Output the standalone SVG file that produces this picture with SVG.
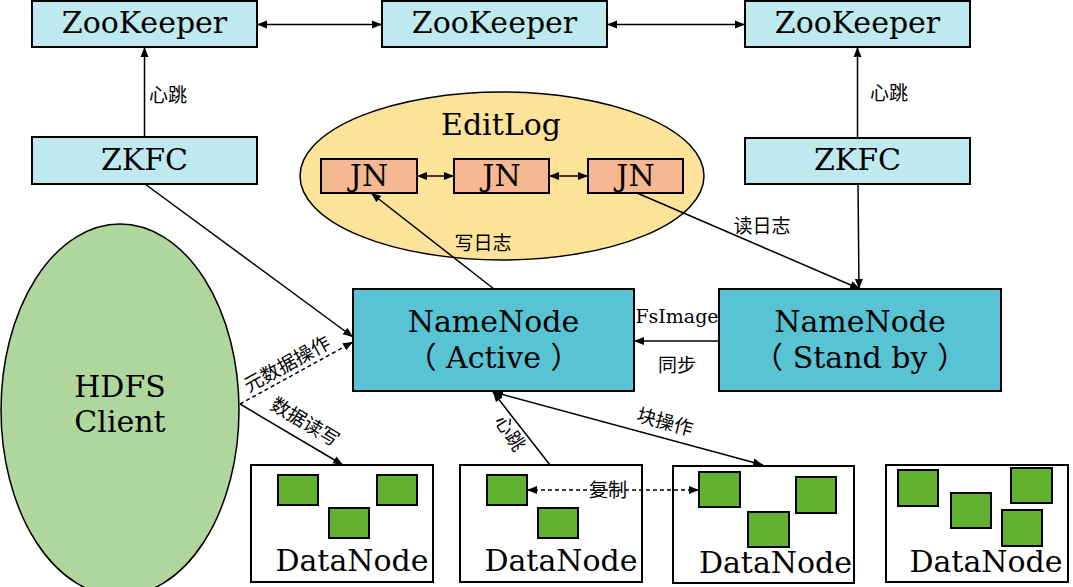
<svg xmlns="http://www.w3.org/2000/svg" width="1073" height="587" viewBox="0 0 1073 587">
<style>
.box{stroke:#000;stroke-width:2}
.zk{fill:#BEE9EE}
.nn{fill:#57C3D3}
.jn{fill:#F5B890}
.dn{fill:#fff}
.blk{fill:#62B22F;stroke:#000;stroke-width:2}
.t{font-family:"DejaVu Serif","Liberation Serif","Noto Sans CJK SC",serif;fill:#000;text-anchor:middle}
.big{font-size:30px}
.c{font-family:"Noto Sans CJK SC",sans-serif;font-size:19px;fill:#000;text-anchor:middle}
.ln{stroke:#000;stroke-width:1.5;fill:none}
.dash{stroke-dasharray:4 3}
</style>
<defs>
<marker id="ah" viewBox="0 0 10 10" refX="10" refY="5" markerWidth="10" markerHeight="10" markerUnits="userSpaceOnUse" orient="auto-start-reverse">
<path d="M0,1 L10,5 L0,9 z" fill="#000"/>
</marker>
</defs>

<g id="editlog">
<ellipse cx="502" cy="176" rx="202" ry="84" fill="#FCE399" stroke="#000" stroke-width="1.5"/>
<text class="t big" x="501" y="135">EditLog</text>
</g>
<g id="hdfs-client">
<ellipse cx="120" cy="410" rx="119" ry="186" fill="#AFD79D" stroke="#000" stroke-width="1.5"/>
<text class="t big" x="120" y="397">HDFS</text>
<text class="t big" x="120" y="432">Client</text>
</g>

<g id="zk1"><rect class="box zk" x="32" y="1" width="225" height="46"/><text class="t big" x="144.5" y="33">ZooKeeper</text></g>
<g id="zk2"><rect class="box zk" x="382" y="1" width="225" height="46"/><text class="t big" x="494.5" y="33">ZooKeeper</text></g>
<g id="zk3"><rect class="box zk" x="745" y="1" width="225" height="46"/><text class="t big" x="857.5" y="33">ZooKeeper</text></g>
<g id="zkfc1"><rect class="box zk" x="32" y="137" width="225" height="47"/><text class="t big" x="144.5" y="170">ZKFC</text></g>
<g id="zkfc2"><rect class="box zk" x="745" y="138" width="225" height="46"/><text class="t big" x="857.5" y="170">ZKFC</text></g>

<g id="jn1"><rect class="box jn" x="321" y="159" width="96" height="34"/><text class="t big" x="369" y="186">JN</text></g>
<g id="jn2"><rect class="box jn" x="454" y="159" width="95" height="34"/><text class="t big" x="501.5" y="186">JN</text></g>
<g id="jn3"><rect class="box jn" x="588" y="159" width="95" height="34"/><text class="t big" x="635.5" y="186">JN</text></g>

<g id="nn-active"><rect class="box nn" x="353" y="289" width="281" height="102"/><text class="t big" x="493.5" y="332">NameNode</text><text class="t big" x="493.5" y="368" xml:space="preserve">（ Active ）</text></g>
<g id="nn-standby"><rect class="box nn" x="719" y="289" width="282" height="102"/><text class="t big" x="860" y="332">NameNode</text><text class="t big" x="860" y="368" xml:space="preserve">（ Stand by ）</text></g>

<g id="dn1"><rect class="box dn" x="251" y="465" width="182" height="117"/>
<rect class="blk" x="278" y="475" width="40" height="30"/><rect class="blk" x="377" y="475" width="40" height="30"/><rect class="blk" x="329" y="508" width="40" height="30"/>
<text class="t big" x="352" y="571">DataNode</text></g>
<g id="dn2"><rect class="box dn" x="460" y="465" width="182" height="117"/>
<rect class="blk" x="487" y="475" width="40" height="30"/><rect class="blk" x="538" y="508" width="40" height="30"/>
<text class="t big" x="561" y="571">DataNode</text></g>
<g id="dn3"><rect class="box dn" x="673" y="466" width="181" height="117"/>
<rect class="blk" x="699" y="472" width="41" height="35"/><rect class="blk" x="796" y="477" width="40" height="36"/><rect class="blk" x="748" y="512" width="41" height="35"/>
<text class="t big" x="775.5" y="573">DataNode</text></g>
<g id="dn4"><rect class="box dn" x="886" y="465" width="182" height="117"/>
<rect class="blk" x="898" y="470" width="40" height="36"/><rect class="blk" x="951" y="493" width="40" height="35"/><rect class="blk" x="1011" y="468" width="41" height="35"/><rect class="blk" x="1002" y="510" width="40" height="36"/>
<text class="t big" x="986" y="572">DataNode</text></g>

<g id="connectors">
<line class="ln" x1="257" y1="24.5" x2="382" y2="24.5" marker-start="url(#ah)" marker-end="url(#ah)"/>
<line class="ln" x1="607" y1="24.5" x2="745" y2="24.5" marker-start="url(#ah)" marker-end="url(#ah)"/>
<line class="ln" x1="144.5" y1="137" x2="144.5" y2="47" marker-end="url(#ah)"/>
<text class="c" x="168" y="95" dy=".35em">心跳</text>
<line class="ln" x1="857.5" y1="138" x2="857.5" y2="47" marker-end="url(#ah)"/>
<text class="c" x="889" y="93" dy=".35em">心跳</text>
<line class="ln" x1="417" y1="176" x2="454" y2="176" marker-start="url(#ah)" marker-end="url(#ah)"/>
<line class="ln" x1="549" y1="176" x2="588" y2="176" marker-start="url(#ah)" marker-end="url(#ah)"/>
<line class="ln" x1="145" y1="184" x2="353" y2="337" marker-end="url(#ah)"/>
<line class="ln dash" x1="240" y1="404" x2="353" y2="342" marker-end="url(#ah)"/>
<text class="c" transform="translate(287,364) rotate(-29)" dy=".35em">元数据操作</text>
<line class="ln" x1="240" y1="404" x2="343" y2="465" marker-end="url(#ah)"/>
<text class="c" transform="translate(305,422) rotate(31)" dy=".35em">数据读写</text>
<line class="ln" x1="494" y1="289" x2="371" y2="193" marker-end="url(#ah)"/>
<text class="c" x="483" y="243" dy=".35em">写日志</text>
<line class="ln" x1="637" y1="193" x2="860" y2="289" marker-end="url(#ah)"/>
<text class="c" x="762" y="226" dy=".35em">读日志</text>
<line class="ln" x1="858" y1="184" x2="859" y2="289" marker-end="url(#ah)"/>
<line class="ln" x1="719" y1="341" x2="634" y2="341" marker-end="url(#ah)"/>
<text class="t" style="font-size:19px" x="677" y="323">FsImage</text>
<text class="c" x="677" y="365" dy=".35em">同步</text>
<line class="ln" x1="550" y1="465" x2="493" y2="392" marker-end="url(#ah)"/>
<text class="c" transform="translate(510,433) rotate(57)" dy=".35em">心跳</text>
<line class="ln" x1="493" y1="392" x2="763" y2="465" marker-start="url(#ah)" marker-end="url(#ah)"/>
<text class="c" transform="translate(665,422) rotate(15)" dy=".35em">块操作</text>
<line class="ln dash" x1="527" y1="490" x2="699" y2="490" marker-start="url(#ah)" marker-end="url(#ah)"/>
<text class="c" x="608" y="490" dy=".35em">复制</text>
</g>
</svg>
